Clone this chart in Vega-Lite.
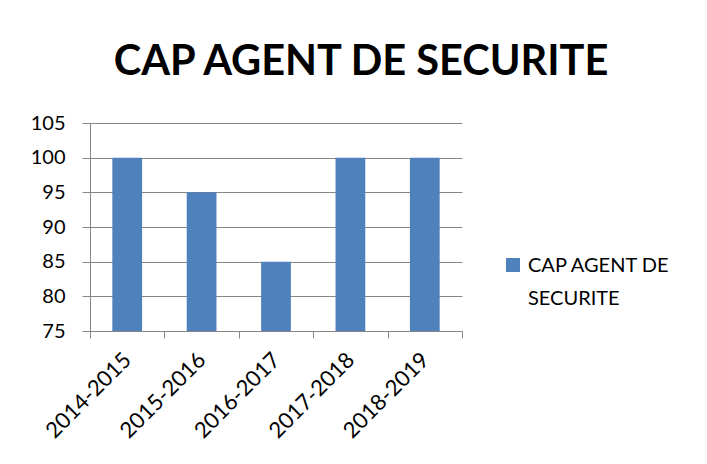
{
  "$schema": "https://vega.github.io/schema/vega-lite/v6.json",
  "autosize": "none",
  "width": 372,
  "height": 208,
  "padding": {"left": 90, "top": 123, "right": 245, "bottom": 133},
  "background": "white",
  "title": {
    "text": "CAP AGENT DE SECURITE",
    "font": "Lato",
    "fontSize": 41.5,
    "fontWeight": "bold",
    "color": "black",
    "anchor": "middle",
    "dx": 85,
    "offset": 30
  },
  "data": {
    "values": [
      {"annee": "2014-2015", "valeur": 100, "serie": "CAP AGENT DE SECURITE"},
      {"annee": "2015-2016", "valeur": 95, "serie": "CAP AGENT DE SECURITE"},
      {"annee": "2016-2017", "valeur": 85, "serie": "CAP AGENT DE SECURITE"},
      {"annee": "2017-2018", "valeur": 100, "serie": "CAP AGENT DE SECURITE"},
      {"annee": "2018-2019", "valeur": 100, "serie": "CAP AGENT DE SECURITE"}
    ]
  },
  "mark": {"type": "bar", "width": {"band": 0.4}, "clip": true},
  "encoding": {
    "x": {
      "field": "annee",
      "type": "nominal",
      "scale": {"paddingInner": 0, "paddingOuter": 0},
      "axis": {
        "title": null,
        "labelAngle": -45,
        "labelAlign": "right",
        "labelBaseline": "middle",
        "labelFont": "Lato",
        "labelFontSize": 22,
        "labelColor": "black",
        "labelPadding": 18,
        "tickBand": "extent",
        "tickSize": 7,
        "tickColor": "#868686",
        "domainColor": "#868686",
        "grid": false
      }
    },
    "y": {
      "field": "valeur",
      "type": "quantitative",
      "scale": {"domain": [75, 105], "zero": false, "nice": false},
      "axis": {
        "title": null,
        "values": [75, 80, 85, 90, 95, 100, 105],
        "labelFont": "Lato",
        "labelFontSize": 20,
        "labelColor": "black",
        "labelPadding": 17,
        "tickSize": 8,
        "tickColor": "#868686",
        "domainColor": "#868686",
        "gridColor": "#868686",
        "gridOpacity": 1
      }
    },
    "color": {
      "field": "serie",
      "type": "nominal",
      "scale": {"range": ["#4F81BD"]},
      "legend": {
        "title": null,
        "orient": "none",
        "legendX": 413,
        "legendY": 132,
        "symbolType": "square",
        "symbolSize": 196,
        "symbolStrokeWidth": 0,
        "labelFont": "Lato",
        "labelFontSize": 20,
        "labelColor": "black",
        "labelExpr": "['CAP AGENT DE', 'SECURITE']",
        "labelLimit": 300,
        "labelBaseline": "alphabetic",
        "labelOffset": 5,
        "encode": {
          "labels": {"update": {"dy": {"value": 7}, "lineHeight": {"value": 33}}}
        }
      }
    }
  },
  "config": {"view": {"stroke": null}}
}
